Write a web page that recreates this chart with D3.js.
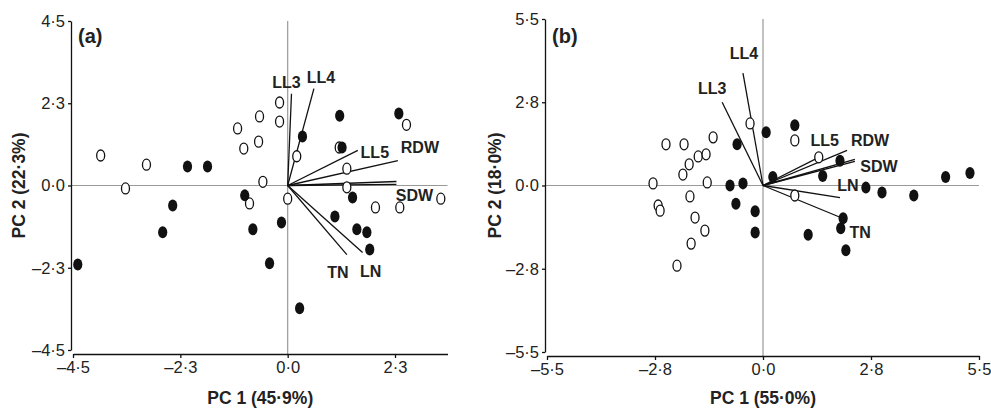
<!DOCTYPE html>
<html>
<head>
<meta charset="utf-8">
<script src="https://cdn.jsdelivr.net/npm/d3@7"></script>
<style>
  body { margin: 0; background: #fff; }
  svg text { font-family: "Liberation Sans", Arial, sans-serif; }
</style>
</head>
<body>
<div id="chart"></div>
<script>
// panel (a) scores
const openA = [
  [-3.92, 0.82], [-3.40, -0.08], [-2.96, 0.57], [-1.05, 1.56], [-0.92, 1.01],
  [-0.17, 2.27], [-0.59, 1.89], [-0.17, 1.75], [-0.61, 1.20], [0.19, 0.80],
  [-0.52, 0.10], [-0.80, -0.49], [0.0, -0.36], [2.49, 1.66], [1.08, 1.04],
  [1.24, 0.46], [1.24, -0.05], [3.21, -0.36], [1.84, -0.60], [2.35, -0.60]
];
const filledA = [
  [-4.40, -2.16], [-2.62, -1.28], [-2.41, -0.55], [-2.10, 0.52], [-1.68, 0.52],
  [-0.90, -0.27], [-0.73, -1.20], [-0.13, -1.01], [-0.38, -2.13], [0.25, -3.36],
  [0.31, 1.34], [1.09, 1.91], [2.33, 1.97], [1.14, 1.04], [1.36, -0.33],
  [0.99, -0.85], [1.45, -1.20], [1.66, -1.28], [1.72, -1.75]
];
const loadA = [
  { name: "LL3", x: 0.08, y: 2.51 },
  { name: "LL4", x: 0.55, y: 2.65 },
  { name: "LL5", x: 1.47, y: 0.96 },
  { name: "RDW", x: 2.31, y: 0.68 },
  { name: "SDW", x: 2.28, y: 0.11 },
  { name: "", x: 2.28, y: 0.03 },
  { name: "TN", x: 1.24, y: -1.89 },
  { name: "LN", x: 1.57, y: -1.83 }
];

// panel (b) scores
const openB = [
  [-2.80, 0.07], [-2.47, 1.36], [-2.01, 1.36], [-1.27, 1.59], [-1.88, 0.70],
  [-1.65, 0.96], [-1.45, 1.03], [-2.04, 0.36], [-1.42, 0.10], [-1.86, -0.36],
  [-2.67, -0.66], [-2.62, -0.83], [-1.73, -1.06], [-1.48, -1.49], [-1.83, -1.92],
  [-2.19, -2.65], [-0.33, 2.05], [0.81, 1.49], [1.42, 0.93], [0.81, -0.33]
];
const filledB = [
  [-0.66, 1.36], [-0.84, 0.0], [-0.51, 0.07], [-0.69, -0.60], [0.08, 1.76],
  [0.81, 1.99], [1.96, 0.82], [0.25, 0.28], [1.52, 0.31], [2.62, -0.07],
  [3.03, -0.23], [3.84, -0.33], [4.65, 0.28], [5.27, 0.41], [-0.20, -0.85],
  [-0.20, -1.55], [1.15, -1.63], [2.04, -1.08], [1.98, -1.41], [2.11, -2.14]
];
const loadB = [
  { name: "LL3", x: -1.04, y: 2.75 },
  { name: "LL4", x: -0.51, y: 3.71 },
  { name: "LL5", x: 1.42, y: 0.93 },
  { name: "RDW", x: 2.14, y: 1.16 },
  { name: "SDW", x: 2.34, y: 0.86 },
  { name: "", x: 2.34, y: 0.80 },
  { name: "LN", x: 1.96, y: -0.40 },
  { name: "TN", x: 2.04, y: -1.09 }
];

const ticksA = [-4.5, -2.25, 0, 2.25, 4.5];
const ticksB = [-5.5, -2.75, 0, 2.75, 5.5];

// label offsets in px from arrow tip
const lblA = { LL3: [-5, -12], LL4: [7, -11], LL5: [17, 2], RDW: [22, -13], SDW: [18, 14], TN: [-9, 18], LN: [8, 19] };
const lblB = { LL3: [-10, -14], LL4: [1, -20], LL5: [6, -17], RDW: [23, -10], SDW: [24, 7], LN: [8, -12], TN: [17, 14] };

const W = 991, H = 410;
const svg = d3.select("#chart").append("svg")
  .attr("width", W).attr("height", H);

const fmt = d => (d < 0 ? "\u2013" : "") + Math.abs(d).toFixed(1).replace(".", "\u00b7");

function panel(o) {
  const x = d3.scaleLinear().domain(o.xd).range(o.xr);
  const y = d3.scaleLinear().domain(o.yd).range(o.yr);
  const g = svg.append("g");
  const axX = o.yr[0] + 4, axY = o.xr[0] - 2;

  // zero lines
  g.append("line").attr("x1", axY).attr("x2", o.xr[1])
    .attr("y1", y(0)).attr("y2", y(0)).attr("stroke", "#999").attr("stroke-width", 1.2);
  g.append("line").attr("x1", x(0)).attr("x2", x(0))
    .attr("y1", o.yr[1]).attr("y2", axX).attr("stroke", "#999").attr("stroke-width", 1.2);

  const xa = g.append("g").attr("transform", `translate(0,${axX})`)
    .call(d3.axisBottom(x).tickValues(o.xt).tickFormat(fmt).tickSize(4).tickSizeOuter(0).tickPadding(3));
  const ya = g.append("g").attr("transform", `translate(${axY},0)`)
    .call(d3.axisLeft(y).tickValues(o.yt).tickFormat(fmt).tickSize(3).tickSizeOuter(0).tickPadding(3));
  [xa, ya].forEach(a => {
    a.selectAll("path, line").attr("stroke", "#111").attr("stroke-width", 1.3);
    a.selectAll("text").attr("font-size", 16.5).attr("fill", "#222");
  });

  // loadings
  g.selectAll(".ld").data(o.load).enter().append("line")
    .attr("x1", x(0)).attr("y1", y(0))
    .attr("x2", d => x(d.x)).attr("y2", d => y(d.y))
    .attr("stroke", "#111").attr("stroke-width", 1.3);

  // scores
  g.selectAll(".op").data(o.open).enter().append("ellipse")
    .attr("cx", d => x(d[0])).attr("cy", d => y(d[1]))
    .attr("rx", 4).attr("ry", 5.5)
    .attr("fill", "#fff").attr("stroke", "#111").attr("stroke-width", 1.3);
  g.selectAll(".fl").data(o.filled).enter().append("ellipse")
    .attr("cx", d => x(d[0])).attr("cy", d => y(d[1]))
    .attr("rx", 4.6).attr("ry", 6)
    .attr("fill", "#111");

  g.selectAll(".lt").data(o.load.filter(d => d.name)).enter().append("text")
    .attr("x", d => x(d.x) + o.lbl[d.name][0])
    .attr("y", d => y(d.y) + o.lbl[d.name][1])
    .attr("dy", "0.36em").attr("text-anchor", "middle")
    .attr("font-size", 16).attr("font-weight", "bold").attr("fill", "#222")
    .text(d => d.name);

  g.append("text").attr("x", o.xr[0] + 5).attr("y", 43)
    .attr("font-size", 20).attr("font-weight", "bold").attr("fill", "#222")
    .text(o.tag);

  g.append("text").attr("x", (o.xr[0] + o.xr[1]) / 2).attr("y", 404)
    .attr("text-anchor", "middle").attr("font-size", 17.5).attr("font-weight", "bold").attr("fill", "#222")
    .text(o.xlab);
  g.append("text")
    .attr("transform", `translate(${o.ylabX},${(o.yr[0] + o.yr[1]) / 2}) rotate(-90)`)
    .attr("text-anchor", "middle").attr("font-size", 17.5).attr("font-weight", "bold").attr("fill", "#222")
    .text(o.ylab);
}

panel({
  xd: [-4.5, 3.35], xr: [73, 447.5], yd: [-4.5, 4.5], yr: [350, 21],
  xt: ticksA.slice(0, 4), yt: ticksA,
  open: openA, filled: filledA, load: loadA, lbl: lblA,
  tag: "(a)", xlab: "PC 1 (45\u00b79%)", ylab: "PC 2 (22\u00b73%)", ylabX: 25
});
panel({
  xd: [-5.5, 5.5], xr: [547, 979], yd: [-5.5, 5.5], yr: [352, 19],
  xt: ticksB, yt: ticksB,
  open: openB, filled: filledB, load: loadB, lbl: lblB,
  tag: "(b)", xlab: "PC 1 (55\u00b70%)", ylab: "PC 2 (18\u00b70%)", ylabX: 501
});
</script>
</body>
</html>
